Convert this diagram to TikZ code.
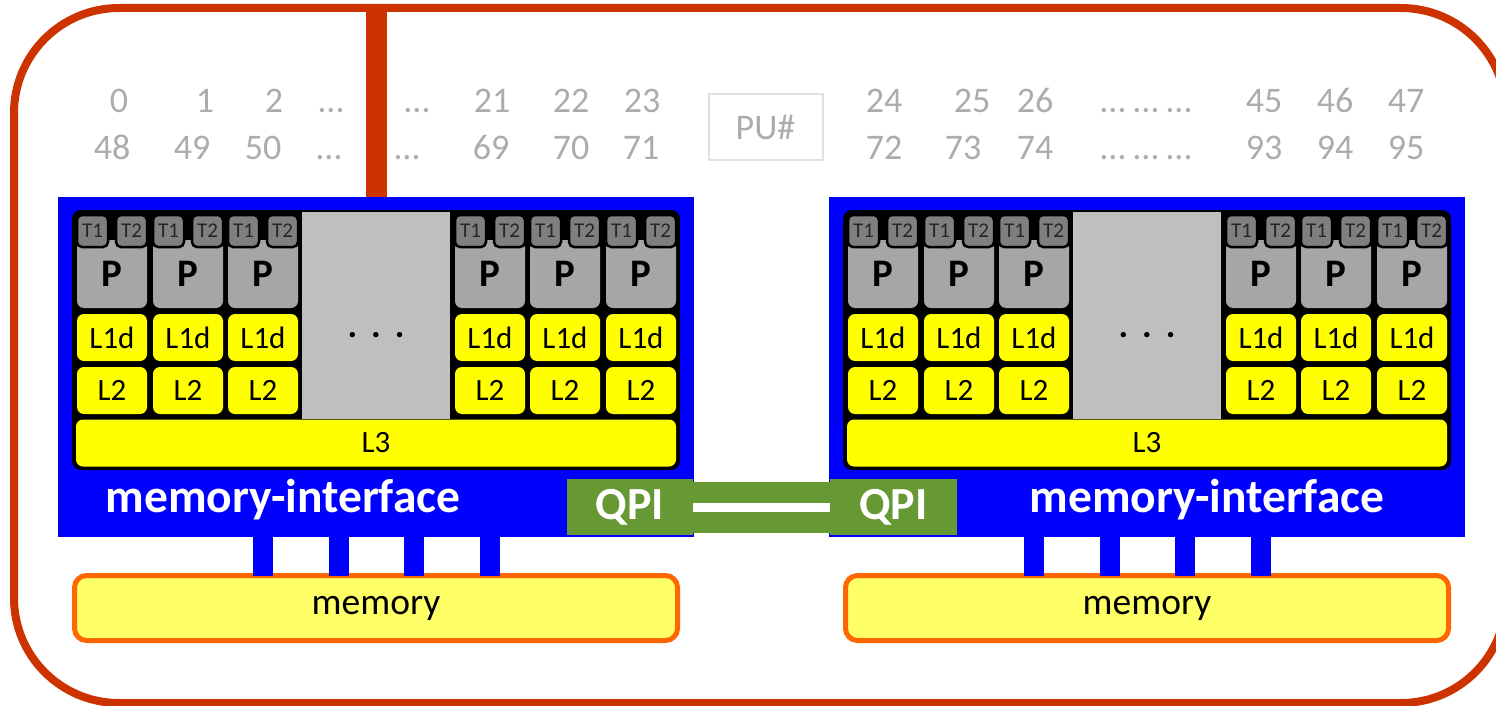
\documentclass[tikz,border=0pt]{standalone}
\usepackage{fontspec}
\setmainfont{Carlito}
\usepackage{xcolor}
\usepackage{tikz}

\definecolor{chipblue}{HTML}{0000FF}
\definecolor{framered}{HTML}{CC3300}
\definecolor{cachey}{HTML}{FFFF00}
\definecolor{thrgray}{HTML}{7F7F7F}
\definecolor{coregray}{HTML}{A6A6A6}
\definecolor{gapgray}{HTML}{BFBFBF}
\definecolor{qpigreen}{HTML}{669933}
\definecolor{memfill}{HTML}{FFFF66}
\definecolor{memedge}{HTML}{FF6600}
\definecolor{pugray}{HTML}{AFABAB}
\definecolor{puedge}{HTML}{E0E0E0}

\newcommand{\fsz}[1]{\fontsize{#1}{#1}\selectfont}

\begin{document}
\begin{tikzpicture}[
    x=1pt, y=-1pt,
    box/.style={
      inner sep=0pt,
      outer sep=0pt,
      align=center
    },
    chip/.style={
      box,
      fill=chipblue,
      minimum width=636pt,
      minimum height=340pt
    },
    coreframe/.style={
      box,
      fill=black,
      rounded corners=9pt,
      minimum width=608pt,
      minimum height=260pt
    },
    gap/.style={
      box,
      fill=gapgray,
      minimum width=148pt,
      minimum height=207pt
    },
    tcell/.style={
      box,
      fill=thrgray,
      draw=black,
      line width=2.5pt,
      rounded corners=5pt,
      minimum width=31pt,
      minimum height=32pt,
      text=black!85,
      font=\fsz{21}
    },
    pcell/.style={
      box,
      fill=coregray,
      rounded corners=7pt,
      minimum width=70pt,
      minimum height=68pt,
      font=\fsz{39}\bfseries
    },
    cache/.style={
      box,
      fill=cachey,
      rounded corners=7pt,
      minimum width=70pt,
      minimum height=47pt,
      font=\fsz{31}
    },
    memory/.style={
      box,
      fill=memfill,
      draw=memedge,
      line width=5pt,
      rounded corners=12pt,
      minimum width=603pt,
      minimum height=65pt,
      font=\fsz{37.5}
    },
    qpi/.style={
      box,
      fill=qpigreen,
      text=white,
      minimum width=126pt,
      minimum height=56pt,
      font=\fsz{46}\bfseries
    },
    mitext/.style={
      box,
      anchor=base,
      text=white,
      font=\fsz{47.5}\bfseries
    },
    pu/.style={
      inner sep=0pt,
      anchor=base,
      text=pugray,
      font=\fsz{36}
    },
    bus/.style={chipblue, line width=20pt},
    link/.style={qpigreen, line width=51pt},
    linkcore/.style={white, line width=9pt}
]
\useasboundingbox (0,0) rectangle (1496,706);

% 1) Outer board with the bar into socket A
\node[box, draw=framered, line width=8pt, rounded corners=105pt,
      minimum width=1492pt, minimum height=695pt] (board) at (760,355.5) {};

% 2) The two sockets
\foreach \c/\dx in {A/0, B/771}{
  \begin{scope}[xshift=\dx pt]
    \node[chip] (chip\c) at (376,367) {};
    \node[coreframe] (cores\c) at (376,340) {};
    \node[gap] (gap\c) at (376,315.5) {};
    \node[box, anchor=base, font=\fsz{36}\bfseries] (dots\c) at (376,337)
      {.\hspace{14pt}.\hspace{14pt}.};
    % cores: P, two threads, L1d, L2
    \foreach \xc [count=\k] in {112,188,263,490,565,641}{
      \node[pcell] (p\c\k) at (\xc,274) {P};
      \node[tcell] (ta\c\k) at (\xc-19.5,231) {T1};
      \node[tcell] (tb\c\k) at (\xc+19.5,231) {T2};
      \node[cache] (lone\c\k) at (\xc,337.5) {L1d};
      \node[cache] (ltwo\c\k) at (\xc,390.5) {L2};
    }
    \node[cache, minimum width=600pt] (lthree\c) at (376,443) {L3};
    % memory below, with its four channels
    \node[memory] (mem\c) at (376,608) {memory};
    \foreach \bx in {263,339,414,490}
      \draw[bus] (chip\c.south -| \bx,0) -- (mem\c.north -| \bx,0);
  \end{scope}
}

\draw[framered, line width=21pt] (board.north -| chipA.north) -- (chipA.north);

% 3) Labels on the sockets
\node[mitext] (miA) at (283,512) {memory-interface};
\node[mitext] (miB) at (1207,512) {memory-interface};

% 4) QPI link between the sockets
\node[qpi] (qpiA) at (630,507) {QPI};
\node[qpi, minimum width=127pt] (qpiB) at (893.5,507) {QPI};
\draw[link] (qpiA.east) -- (qpiB.west);
\draw[linkcore] (qpiA.east) -- (qpiB.west);

% 5) PU numbering
\node[box, draw=puedge, line width=2pt, text=pugray, font=\fsz{36},
      minimum width=114pt, minimum height=65pt] (pulabel) at (765.5,127) {PU\#};
\foreach \x/\t [count=\i] in {119/0, 205/1, 274/2, 331/…, 417/…,
    492/21, 571/22, 642/23, 884/24, 972/25, 1035/26, 1146/{… … …},
    1264/45, 1335/46, 1406/47}
  \node[pu] (pua\i) at (\x,113) {\t};
\foreach \x/\t [count=\i] in {112/48, 192/49, 263/50, 329/…, 407/…,
    491/69, 571/70, 641/71, 884/72, 963/73, 1035/74, 1146/{… … …},
    1264/93, 1335/94, 1406/95}
  \node[pu] (pub\i) at (\x,160) {\t};

\end{tikzpicture}
\end{document}
